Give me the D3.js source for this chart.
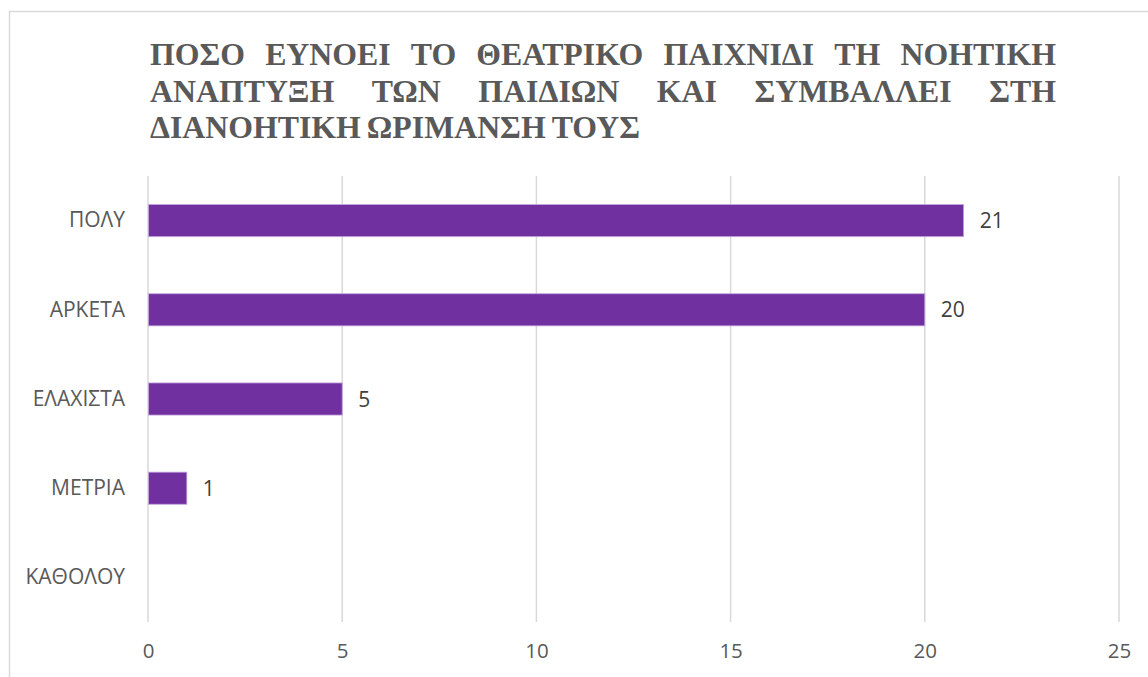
<!DOCTYPE html>
<html><head><meta charset="utf-8">
<script src="https://cdn.jsdelivr.net/npm/d3@7"></script>
<style>html,body{margin:0;padding:0;background:#fff;overflow:hidden}</style>
</head><body>
<svg id="c" width="1148" height="677"></svg>
<script>
const categories = ["ΠΟΛΥ","ΑΡΚΕΤΑ","ΕΛΑΧΙΣΤΑ","ΜΕΤΡΙΑ","ΚΑΘΟΛΟΥ"];
const values = [21,20,5,1,0];
const xTicks = [0,5,10,15,20,25];
const titleLines = ["ΠΟΣΟ ΕΥΝΟΕΙ ΤΟ ΘΕΑΤΡΙΚΟ ΠΑΙΧΝΙΔΙ ΤΗ ΝΟΗΤΙΚΗ","ΑΝΑΠΤΥΞΗ ΤΩΝ ΠΑΙΔΙΩΝ ΚΑΙ ΣΥΜΒΑΛΛΕΙ ΣΤΗ","ΔΙΑΝΟΗΤΙΚΗ ΩΡΙΜΑΝΣΗ ΤΟΥΣ"];

const svg = d3.select("#c");
svg.append("rect").attr("x",9.5).attr("y",11.5).attr("width",1300).attr("height",800)
  .attr("fill","#fff").attr("stroke","#d9d9d9").attr("stroke-width",1.5);

const pL=148, pR=1119, pT=176, pB=622;
const x = d3.scaleLinear().domain([0,25]).range([pL,pR]);
const y = d3.scaleBand().domain(categories).range([pT,pB]).paddingInner(0.64).paddingOuter(0.32);
const data = categories.map((c,i)=>({c, v: values[i]}));

svg.append("g").selectAll("line").data(xTicks).join("line")
  .attr("x1",d=>x(d)).attr("x2",d=>x(d)).attr("y1",pT).attr("y2",pB)
  .attr("stroke","#d9d9d9").attr("stroke-width",1.5);

const xa = svg.append("g").attr("transform",`translate(0,${pB})`)
  .call(d3.axisBottom(x).tickValues(xTicks).tickSize(0).tickPadding(21));
xa.select(".domain").remove();
xa.selectAll("text").attr("font-family","'Open Sans'").attr("font-size",20.5).attr("fill","#595959");

const ya = svg.append("g").attr("transform",`translate(${pL},0)`)
  .call(d3.axisLeft(y).tickSize(0).tickPadding(23));
ya.select(".domain").remove();
ya.selectAll("text").attr("font-family","'Open Sans'").attr("font-size",21).attr("fill","#595959");

svg.append("g").selectAll("rect").data(data.filter(d=>d.v>0)).join("rect")
  .attr("x",x(0)+0.5).attr("y",d=>y(d.c))
  .attr("width",d=>x(d.v)-x(0)-0.5).attr("height",y.bandwidth())
  .attr("fill","#7030A0").attr("stroke","#c3a6dc").attr("stroke-width",0.8);

svg.append("g").selectAll("text").data(data.filter(d=>d.v>0)).join("text")
  .attr("x",d=>x(d.v)+16).attr("y",d=>y(d.c)+y.bandwidth()/2).attr("dy","0.36em")
  .attr("font-family","'Open Sans'").attr("font-size",21).attr("fill","#404040").text(d=>d.v);

const tLeft=150, tRight=1056, baselines=[65,102,138], lastWidth=490, lastGap=6;
const tg = svg.append("g").attr("font-family","'Liberation Serif','Times New Roman',serif")
  .attr("font-weight","bold").attr("font-size",31).attr("fill","#595959");
function measure(s){const t=tg.append("text").text(s);const w=t.node().getComputedTextLength();t.remove();return w;}
const lastWords = titleLines[2].split(" ");
const scale = (lastWidth-lastGap*(lastWords.length-1))/d3.sum(lastWords,measure);
titleLines.forEach((line,li)=>{
  const words=line.split(" ");
  const ws=words.map(w=>measure(w)*scale);
  const gap = li<titleLines.length-1 ? (tRight-tLeft-d3.sum(ws))/(words.length-1) : lastGap;
  let cx=tLeft;
  words.forEach((w,i)=>{
    tg.append("text").attr("x",cx).attr("y",baselines[li]).attr("textLength",ws[i])
      .attr("lengthAdjust","spacingAndGlyphs").text(w);
    cx+=ws[i]+gap;
  });
});
</script>
</body></html>
